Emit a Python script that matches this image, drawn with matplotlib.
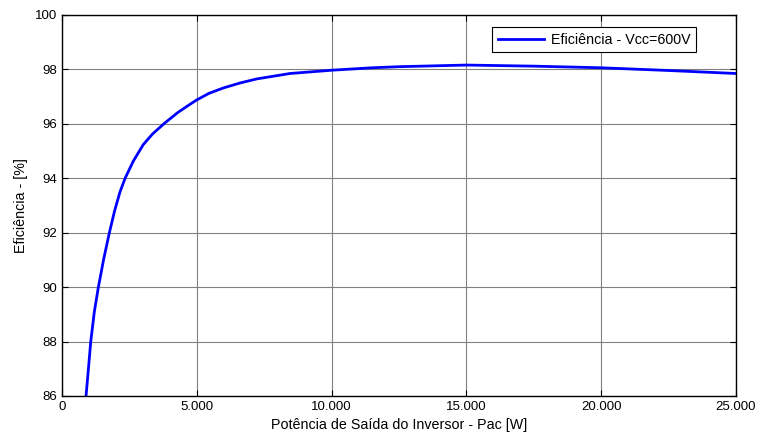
import matplotlib.pyplot as plt
from matplotlib.ticker import FuncFormatter

# Output power of the inverter [W] and efficiency [%]
pac = [891, 980, 1066, 1200, 1349, 1550, 1757, 1950, 2151, 2340, 2645,
       3016, 3350, 3800, 4300, 4750, 5000, 5450, 5990, 6600, 7220, 8460,
       10000, 11500, 12500, 15000, 17500, 20000, 22500, 25000]
eficiencia = [86.0, 87.0, 88.0, 89.1, 90.0, 91.05, 92.0, 92.8, 93.5, 94.0,
              94.63, 95.24, 95.62, 96.02, 96.42, 96.72, 96.88, 97.12, 97.32,
              97.5, 97.65, 97.85, 97.97, 98.06, 98.1, 98.16, 98.12, 98.06,
              97.96, 97.85]

x_ticks = [0, 5000, 10000, 15000, 20000, 25000]
y_ticks = [86, 88, 90, 92, 94, 96, 98, 100]

plt.rcParams['font.family'] = ['Liberation Sans', 'DejaVu Sans']

fig = plt.figure(figsize=(7.58, 4.38), dpi=100)
ax = fig.add_axes([0.0818, 0.0959, 0.8892, 0.8699])

ax.plot(pac, eficiencia, color='#0000ff', lw=2, label='Eficiência - Vcc=600V')

ax.set_xlim(0, 25000)
ax.set_ylim(86, 100)
ax.set_xticks(x_ticks)
ax.set_yticks(y_ticks)
ax.xaxis.set_major_formatter(FuncFormatter(lambda v, p: f"{int(v):,}".replace(',', '.')))

ax.grid(True, color='#808080', lw=0.8, ls='-')
ax.tick_params(direction='in', top=True, right=True, length=4, labelsize=9.5, width=0.8)
for s in ax.spines.values():
    s.set_linewidth(1.0)

ax.set_xlabel('Potência de Saída do Inversor - Pac [W]', fontsize=10.3, labelpad=4)
ax.set_ylabel('Eficiência - [%]', fontsize=10.3, labelpad=5)

leg = ax.legend(loc='upper right', bbox_to_anchor=(0.9407, 0.969), fontsize=10.3,
                fancybox=False, framealpha=1, edgecolor='black', handlelength=3.2,
                borderpad=0.4, handletextpad=0.5, borderaxespad=0)
leg.get_frame().set_linewidth(0.8)

fig.savefig('out.png', dpi=100)
